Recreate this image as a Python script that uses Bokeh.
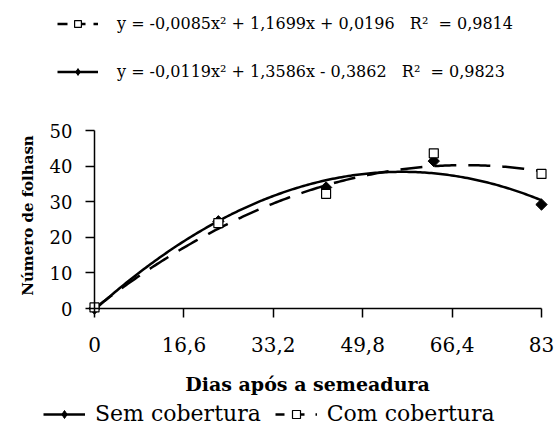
import numpy as np
from bokeh.plotting import figure
from bokeh.models import (Range1d, LinearAxis, FixedTicker, CustomJSTickFormatter,
                          Legend, LegendItem, Label)
from bokeh.embed import file_html
from bokeh.resources import INLINE

# ---- data ----
days = [0, 23, 43, 63, 83]
sem_cobertura = [0.0, 24.5, 34.0, 41.4, 29.2]
com_cobertura = [0.3, 24.0, 32.2, 43.6, 37.8]
coef_sem = [-0.0119, 1.3586, -0.3862]
coef_com = [-0.0085, 1.1699, 0.0196]
eq_com = "y = -0,0085x² + 1,1699x + 0,0196\u00a0\u00a0\u00a0R²\u00a0\u00a0= 0,9814"
eq_sem = "y = -0,0119x² + 1,3586x - 0,3862\u00a0\u00a0\u00a0R²\u00a0\u00a0= 0,9823"
x_ticks = [0, 16.6, 33.2, 49.8, 66.4, 83]
y_ticks = [0, 10, 20, 30, 40, 50]
names = ["Sem cobertura", "Com cobertura"]
x_title = "Dias após a semeadura"
y_title = "Número de folhasn"

FONT = "DejaVu Serif"
W, H = 554, 425
# plot area in canvas pixels
L, R, T, B = 94, 541, 130, 308
x0, x1 = 0, 83
y0, y1 = 0, 50
sx = (R - L) / (x1 - x0)
sy = (B - T) / (y1 - y0)

p = figure(width=W, height=H, output_backend="svg", toolbar_location=None,
           x_range=Range1d(x0 - L / sx, x1 + (W - R) / sx),
           y_range=Range1d(y0 - (H - B) / sy, y1 + T / sy),
           x_axis_location=None, y_axis_location=None,
           min_border=0, min_border_left=0, min_border_right=0,
           min_border_top=0, min_border_bottom=0)
p.outline_line_color = None
p.grid.visible = False
p.background_fill_color = "white"
p.border_fill_color = "white"

# trend lines (Excel polynomial trendlines from displayed coefficients)
xs = np.linspace(min(days), max(days), 200)
ys_sem = np.polyval(coef_sem, xs)
ys_com = np.polyval(coef_com, xs)

l_sem = p.line(xs, ys_sem, line_color="black", line_width=2.5)
l_com = p.line(xs, ys_com, line_color="black", line_width=2.5, line_dash="22 12")

s_sem = p.scatter(days, sem_cobertura, marker="square", angle=np.pi / 4, size=8,
                  fill_color="black", line_color="black")
s_com = p.scatter(days, com_cobertura, marker="square", size=9, fill_color="white",
                  line_color="black", line_width=1.2)

# legend-only renderers (kept off-canvas)
OFF_X, OFF_Y = [-1000, -999], [-1000, -1000]
lg_com_line = p.line(OFF_X, OFF_Y, line_color="black", line_width=2.5, line_dash="10 8")
lg_com_line2 = p.line(OFF_X, OFF_Y, line_color="black", line_width=2.5, line_dash="9 11")
lg_sem_mark = p.scatter(OFF_X, OFF_Y, marker="diamond", size=8, fill_color="black",
                        line_color="black")


def style_axis(ax):
    ax.axis_line_color = "black"
    ax.axis_line_width = 1.5
    ax.major_tick_line_color = "black"
    ax.major_tick_line_width = 1.5
    ax.major_tick_in = 0
    ax.major_tick_out = 9
    ax.minor_tick_line_color = None
    ax.major_label_text_font = FONT
    ax.major_label_text_color = "black"


yax = LinearAxis(fixed_location=0, ticker=FixedTicker(ticks=y_ticks), bounds=(y0, y1))
style_axis(yax)
yax.major_label_text_font_size = "18px"
yax.major_label_standoff = 13
p.add_layout(yax, "left")

xax = LinearAxis(fixed_location=0, ticker=FixedTicker(ticks=x_ticks), bounds=(x0, x1),
                 formatter=CustomJSTickFormatter(code="return tick.toString().replace('.', ',')"))
style_axis(xax)
xax.major_label_text_font_size = "20px"
xax.major_label_standoff = 19
p.add_layout(xax, "below")

# axis titles (screen units: from canvas bottom-left, y upward)
p.add_layout(Label(x=307, y=H - 383, x_units="screen", y_units="screen", text=x_title,
                   text_font=FONT, text_font_style="bold", text_font_size="19px",
                   text_align="center", text_baseline="alphabetic", text_color="black"))
p.add_layout(Label(x=27, y=H - 215, x_units="screen", y_units="screen", text=y_title,
                   angle=np.pi / 2, text_font=FONT, text_font_style="bold",
                   text_font_size="15px", text_align="center", text_baseline="alphabetic",
                   text_color="black"))

# top legend (equations)
top_leg = Legend(items=[LegendItem(label=eq_com, renderers=[lg_com_line, s_com]),
                        LegendItem(label=eq_sem, renderers=[l_sem, lg_sem_mark])],
                 location=(57, H - 81), orientation="vertical",
                 glyph_width=41, glyph_height=17, label_height=20, spacing=28,
                 label_standoff=19, padding=0, margin=0,
                 label_text_font=FONT, label_text_font_size="16px", label_text_color="black",
                 background_fill_alpha=0, border_line_color=None)
p.add_layout(top_leg)

bot_leg = Legend(items=[LegendItem(label=names[0], renderers=[l_sem, lg_sem_mark]),
                        LegendItem(label=names[1], renderers=[lg_com_line2, s_com])],
                 location=(43, -1), orientation="horizontal",
                 glyph_width=42, glyph_height=20, label_height=20, spacing=14,
                 label_standoff=10, padding=0, margin=0,
                 label_text_font=FONT, label_text_font_size="22px", label_text_color="black",
                 background_fill_alpha=0, border_line_color=None)
p.add_layout(bot_leg)

open("out.html", "w").write(file_html(p, INLINE))
